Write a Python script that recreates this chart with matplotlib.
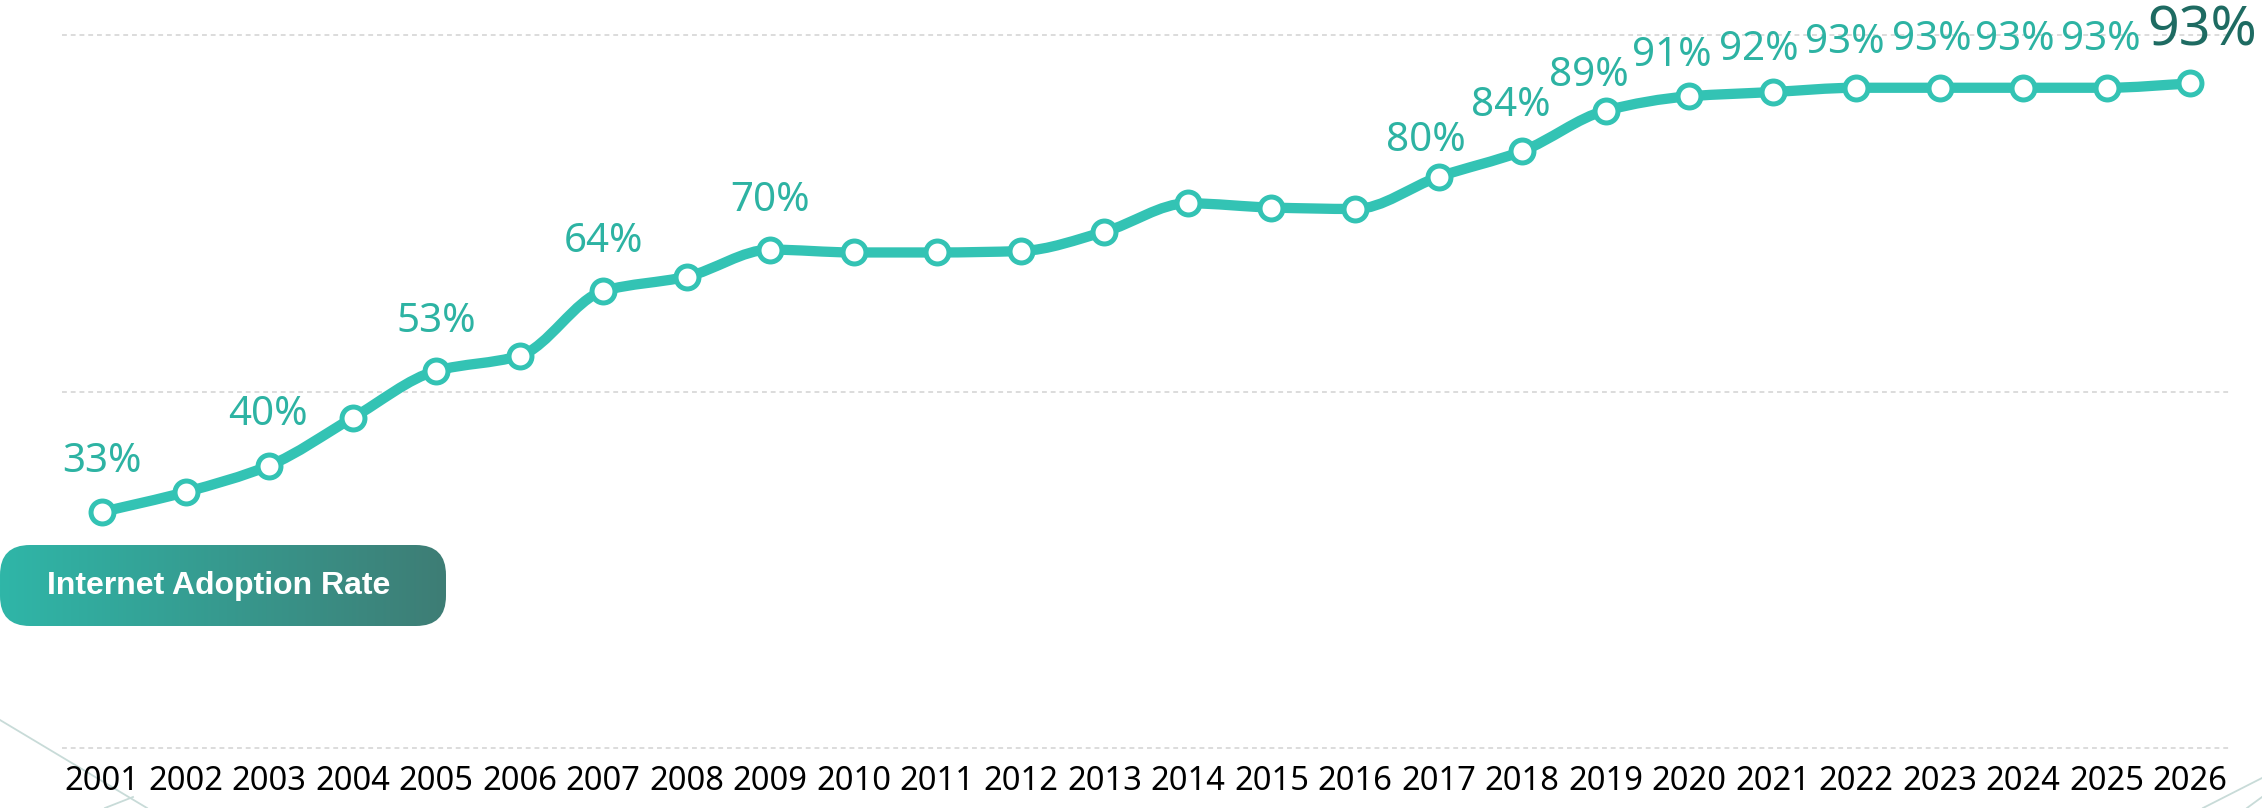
import numpy as np
import matplotlib
matplotlib.use("Agg")
import matplotlib.pyplot as plt
from matplotlib.path import Path
from matplotlib.patches import PathPatch, FancyBboxPatch
from matplotlib.colors import LinearSegmentedColormap

# data
years = list(range(2001, 2027))
rate = [33.1, 35.9, 39.6, 46.3, 52.9, 55.0, 64.1, 66.1, 69.9, 69.5,
        69.5, 69.7, 72.4, 76.4, 75.8, 75.6, 80.1, 83.7, 89.4, 91.4,
        92.0, 92.6, 92.6, 92.6, 92.6, 93.2]
label_years = [2001, 2003, 2005, 2007, 2009, 2017, 2018, 2019, 2020,
               2021, 2022, 2023, 2024, 2025, 2026]
label_text = ["33%", "40%", "53%", "64%", "70%", "80%", "84%", "89%", "91%",
              "92%", "93%", "93%", "93%", "93%", "93%"]
grid_levels = [0, 50, 100]

# label nudges in pixels (dx, dy above point baseline)
label_dx = [0, -1, 0, 0, 0, -13, -11, -17, -17, -14, -11, -8, -8, -6, 12]
label_dy = [40, 41, 39, 39, 39, 26, 35, 25, 30, 32, 35, 38, 38, 38, 38]

LINE = "#33c3b4"
LABEL = "#2db3a3"
DARK = "#1e6b62"

W, H = 2262, 808
PX = 72 / 100  # points per pixel
fig = plt.figure(figsize=(W / 100, H / 100), dpi=100)

# background overlay in pixel coords for decoration
bg = fig.add_axes([0, 0, 1, 1])
bg.set_xlim(0, W)
bg.set_ylim(H, 0)
bg.axis("off")
for (x0, y0, x1, y1) in [(0, 720, 147, 808), (105, 808, 133, 797),
                         (2203, 808, 2262, 778), (2247, 808, 2262, 797)]:
    bg.plot([x0, x1], [y0, y1], color="#c8dbd8", lw=1.3)

ax = fig.add_axes([62 / W, 1 - 748 / H, (2232 - 62) / W, (748 - 35) / H])
ax.patch.set_alpha(0)
ax.set_xlim(2000.52, 2026.5)
ax.set_ylim(0, 100)
for s in ax.spines.values():
    s.set_visible(False)
ax.set_yticks([])
ax.set_xticks(years)
ax.set_xticklabels([str(y) for y in years], fontsize=23.5, family="Noto Sans",
                   color="black")
ax.tick_params(axis="x", length=0, pad=12)

for g in grid_levels:
    ax.axhline(g, color="#dcdcdc", lw=1.4, ls=(0, (2.5, 2)), clip_on=False,
               zorder=0)

# smooth monotone curve through the points
x = np.array(years, dtype=float)
y = np.array(rate)
d = np.diff(y) / np.diff(x)
m = np.zeros_like(y)
m[0], m[-1] = d[0], d[-1]
for i in range(1, len(y) - 1):
    if d[i - 1] * d[i] <= 0:
        m[i] = 0
    else:
        m[i] = 2 / (1 / d[i - 1] + 1 / d[i])
verts = [(x[0], y[0])]
codes = [Path.MOVETO]
for i in range(len(x) - 1):
    h = x[i + 1] - x[i]
    verts += [(x[i] + h / 3, y[i] + m[i] * h / 3),
              (x[i + 1] - h / 3, y[i + 1] - m[i + 1] * h / 3),
              (x[i + 1], y[i + 1])]
    codes += [Path.CURVE4] * 3
ax.add_patch(PathPatch(Path(verts, codes), fill=False, edgecolor=LINE,
                       lw=7.4, capstyle="round", joinstyle="round", zorder=2,
                       clip_on=False))
ax.plot(years, rate, ls="none", marker="o", ms=16.5, mew=3.6, mfc="white",
        mec=LINE, zorder=3, clip_on=False)

for k, (yr, txt) in enumerate(zip(label_years, label_text)):
    v = rate[years.index(yr)]
    big = yr == label_years[-1]
    ax.annotate(txt, (yr, v), xytext=(label_dx[k] * PX, label_dy[k] * PX),
                textcoords="offset points", ha="center", va="baseline",
                fontsize=40 if big else 29, color=DARK if big else LABEL,
                family="Noto Sans", zorder=4, annotation_clip=False)

# gradient title pill on its own top layer
top = fig.add_axes([0, 0, 1, 1])
top.set_xlim(0, W)
top.set_ylim(H, 0)
top.axis("off")
top.patch.set_alpha(0)
box = FancyBboxPatch((0, 545), 446, 81, boxstyle="round,pad=0,rounding_size=30",
                     transform=top.transData, facecolor="none", edgecolor="none")
top.add_patch(box)
cmap = LinearSegmentedColormap.from_list("pill", ["#2fb6a8", "#3e7d75"])
grad = np.linspace(0, 1, 256).reshape(1, -1)
im = top.imshow(grad, cmap=cmap, extent=(0, 446, 626, 545), aspect="auto",
                zorder=5)
im.set_clip_path(box)
top.set_xlim(0, W)
top.set_ylim(H, 0)
top.text(47, 586, "Internet Adoption Rate", color="white", fontsize=23,
         fontweight="bold", family="Liberation Sans", va="center", ha="left",
         zorder=6)

fig.savefig("out.png", dpi=100)
